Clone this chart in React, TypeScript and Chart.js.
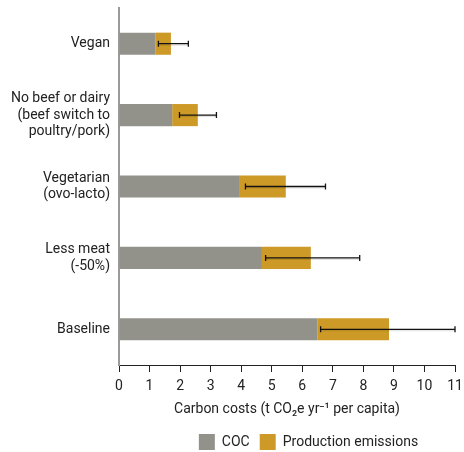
import React, { useEffect, useRef } from "react";
import { Chart, registerables } from "chart.js";

Chart.register(...registerables);

const categories: string[][] = [
  ["Vegan"],
  ["No beef or dairy", "(beef switch to", "poultry/pork)"],
  ["Vegetarian", "(ovo-lacto)"],
  ["Less meat", "(-50%)"],
  ["Baseline"],
];
const cocValues = [1.2, 1.74, 3.93, 4.68, 6.49];
const productionValues = [0.5, 0.84, 1.53, 1.6, 2.35];
const errLow = [1.29, 1.98, 4.14, 4.8, 6.6];
const errHigh = [2.27, 3.19, 6.76, 7.88, 11.0];
const xTicks = [0, 1, 2, 3, 4, 5, 6, 7, 8, 9, 10, 11];

const FONT = "Roboto";

const errorBarPlugin = {
  id: "errorBars",
  afterLayout(chart: any) {
    const lg = chart.legend;
    if (lg) {
      lg.left += 81;
      lg.right += 81;
      lg.top += 8;
      lg.bottom += 8;
    }
  },
  afterDatasetsDraw(chart: any) {
    const { ctx, scales } = chart;
    const x = scales.x;
    const y = scales.y;
    ctx.save();
    for (let i = 0; i < categories.length; i++) {
      const yc = y.getPixelForValue(i);
      const x1 = x.getPixelForValue(errLow[i]);
      const x2 = x.getPixelForValue(errHigh[i]);
      ctx.strokeStyle = "rgba(0,0,0,0.12)";
      ctx.lineWidth = 1;
      ctx.beginPath();
      ctx.moveTo(x1, yc + 1.5);
      ctx.lineTo(x2, yc + 1.5);
      ctx.stroke();
      ctx.strokeStyle = "#111";
      ctx.lineWidth = 1.3;
      ctx.beginPath();
      ctx.moveTo(x1, yc);
      ctx.lineTo(x2, yc);
      ctx.moveTo(x1, yc - 3);
      ctx.lineTo(x1, yc + 3);
      ctx.moveTo(x2, yc - 3);
      ctx.lineTo(x2, yc + 3);
      ctx.stroke();
    }
    ctx.restore();
  },
};

export default function App() {
  const ref = useRef<HTMLCanvasElement | null>(null);
  useEffect(() => {
    document.body.style.margin = "0";
    const chart = new Chart(ref.current as HTMLCanvasElement, {
      type: "bar",
      data: {
        labels: categories,
        datasets: [
          {
            label: "COC",
            data: cocValues,
            backgroundColor: "#93928a",
            barPercentage: 0.31,
            categoryPercentage: 1,
            stack: "s",
          },
          {
            label: "Production emissions",
            data: productionValues,
            backgroundColor: "#cd9a27",
            barPercentage: 0.31,
            categoryPercentage: 1,
            stack: "s",
          },
        ],
      },
      options: {
        indexAxis: "y",
        animation: false,
        responsive: false,
        maintainAspectRatio: false,
        layout: { padding: { top: 8, right: 9, left: 0, bottom: 0 } },
        scales: {
          x: {
            stacked: true,
            min: 0,
            max: 11,
            afterBuildTicks(scale: any) {
              scale.ticks = xTicks.map((v) => ({ value: v }));
            },
            afterFit(scale: any) {
              scale.height = 51;
              scale.paddingLeft = 0;
              scale.paddingRight = 0;
            },
            grid: {
              drawOnChartArea: false,
              drawTicks: true,
              tickLength: 7,
              color: "#222",
            },
            border: { color: "#222", width: 1 },
            ticks: {
              color: "#222",
              font: { family: FONT, size: 14 },
              padding: 6,
            },
            title: {
              display: true,
              text: "Carbon costs (t CO₂e yr⁻¹ per capita)",
              color: "#222",
              font: { family: FONT, size: 14 },
              padding: { top: 2, bottom: -2 },
            },
          },
          y: {
            stacked: true,
            afterFit(scale: any) {
              scale.width = 119;
              scale.paddingTop = 0;
              scale.paddingBottom = 0;
            },
            grid: { display: false, drawTicks: false },
            border: { color: "#9a9a9a", width: 2 },
            ticks: {
              color: "#222",
              font: { family: FONT, size: 14, lineHeight: 1.2 },
              padding: 9,
            },
          },
        },
        plugins: {
          legend: {
            position: "bottom",
            labels: {
              boxWidth: 16,
              boxHeight: 16,
              color: "#222",
              font: { family: FONT, size: 14 },
              padding: 10,
            },
          },
          tooltip: { enabled: false },
        },
      },
      plugins: [errorBarPlugin],
    } as any);
    return () => chart.destroy();
  }, []);
  return (
    <div style={{ width: 464, height: 452 }}>
      <canvas ref={ref} width={464} height={452} style={{ display: "block" }} />
    </div>
  );
}
